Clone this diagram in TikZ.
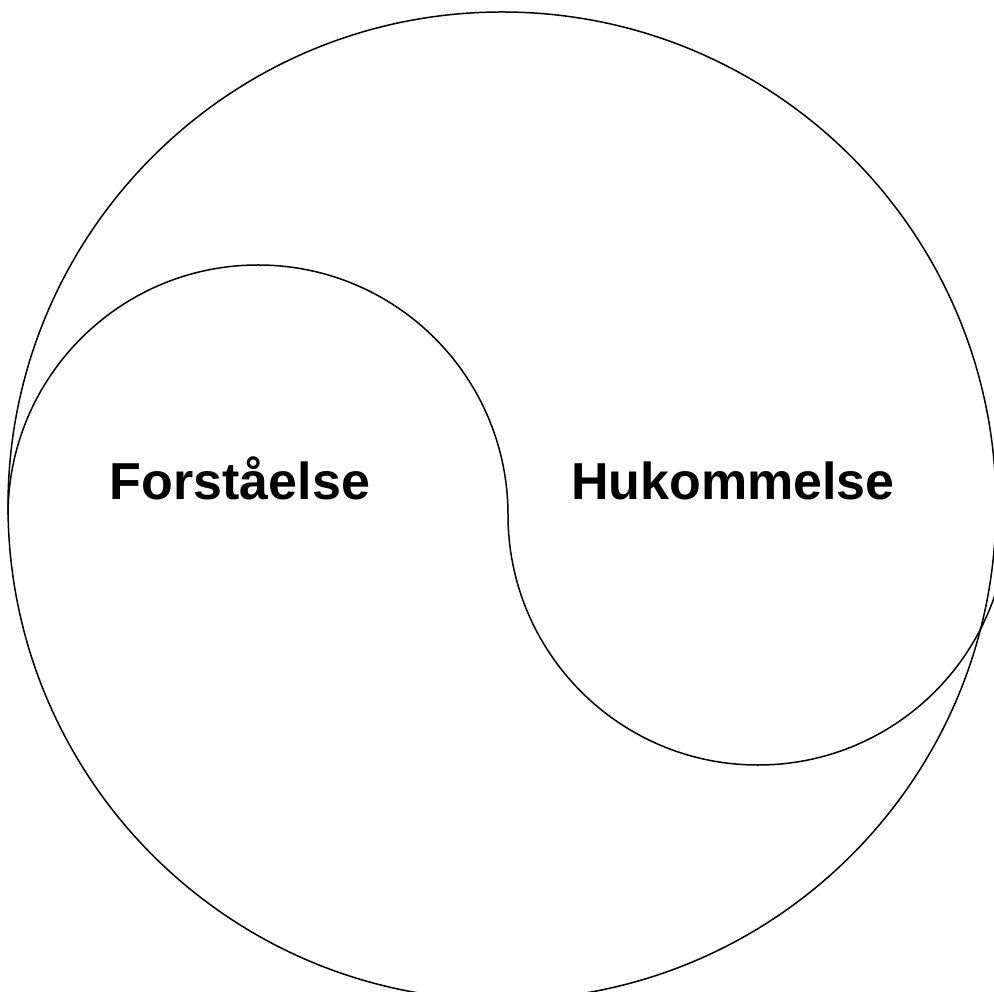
\documentclass[tikz,border=0pt]{standalone}
\usepackage{fontspec}
\setmainfont{Liberation Sans}
\begin{document}
\begin{tikzpicture}[x=0.5pt,y=0.5pt,line width=0.75pt]
  \useasboundingbox (0,0) rectangle (994,991);
  \clip (0,0) rectangle (994,991);
  \draw (502,485) circle (494);
  \draw (8,476) arc (180:0:250) arc (180:360:250);
  \node[anchor=base,font=\bfseries\fontsize{26}{30}\selectfont] (forst) at (240,491) {Forståelse};
  \node[anchor=base,font=\bfseries\fontsize{26}{30}\selectfont] (hukom) at (733,491) {Hukommelse};
\end{tikzpicture}
\end{document}
